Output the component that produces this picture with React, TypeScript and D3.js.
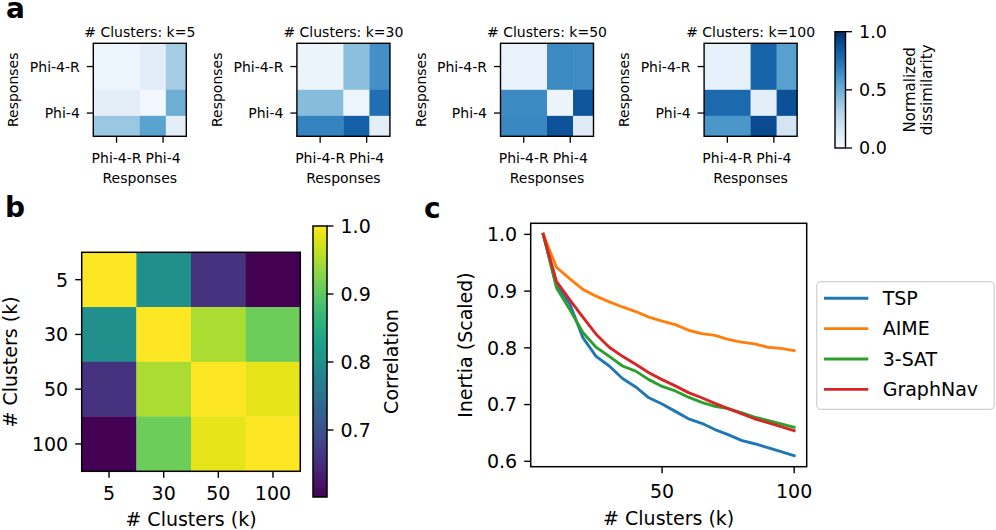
import React from 'react';
import * as d3 from 'd3';

const FONT = "'DejaVu Sans', sans-serif";

// ---------------- Panel a data ----------------
const clusterCountsA = [5, 30, 50, 100];
const responseGroups = ['Phi-4-R', 'Phi-4'];
const groupCenters = [0.25, 0.75];
const blockEdges = [0, 0.5, 0.78, 1];
const dissimK5 = [
  [0.05, 0.11, 0.35],
  [0.1, 0.03, 0.5],
  [0.38, 0.55, 0.1],
];
const dissimK30 = [
  [0.06, 0.42, 0.63],
  [0.43, 0.05, 0.76],
  [0.68, 0.82, 0.1],
];
const dissimK50 = [
  [0.07, 0.65, 0.64],
  [0.65, 0.06, 0.86],
  [0.66, 0.87, 0.12],
];
const dissimK100 = [
  [0.08, 0.8, 0.56],
  [0.78, 0.1, 0.88],
  [0.6, 0.9, 0.18],
];
const dissimMatrices = [dissimK5, dissimK30, dissimK50, dissimK100];
const dissimTicks = [0, 0.5, 1];

// ---------------- Panel b data ----------------
const kLabelsB = ['5', '30', '50', '100'];
const correlation = [
  [1.0, 0.8, 0.66, 0.6],
  [0.8, 1.0, 0.95, 0.91],
  [0.66, 0.95, 1.0, 0.985],
  [0.6, 0.91, 0.985, 1.0],
];
const corrTicks = [0.7, 0.8, 0.9, 1.0];
const corrRange = [0.6015, 1.0];

// ---------------- Panel c data ----------------
const kSteps = [5, 10, 15, 20, 25, 30, 35, 40, 45, 50, 55, 60, 65, 70, 75, 80, 85, 90, 95, 100];
const inertiaTSP = [1.0, 0.91, 0.878, 0.818, 0.785, 0.768, 0.746, 0.731, 0.712, 0.701, 0.688, 0.675, 0.667, 0.656, 0.647, 0.637, 0.631, 0.624, 0.617, 0.61];
const inertiaAIME = [1.0, 0.942, 0.922, 0.903, 0.891, 0.881, 0.872, 0.864, 0.854, 0.847, 0.841, 0.831, 0.825, 0.822, 0.815, 0.81, 0.807, 0.801, 0.799, 0.795];
const inertia3SAT = [1.0, 0.906, 0.868, 0.827, 0.801, 0.785, 0.768, 0.759, 0.744, 0.732, 0.724, 0.713, 0.704, 0.697, 0.693, 0.686, 0.678, 0.672, 0.666, 0.66];
const inertiaGraphNav = [1.0, 0.917, 0.885, 0.854, 0.824, 0.801, 0.785, 0.771, 0.756, 0.744, 0.733, 0.721, 0.712, 0.702, 0.693, 0.684, 0.675, 0.668, 0.661, 0.654];
const seriesNames = ['TSP', 'AIME', '3-SAT', 'GraphNav'];
const seriesValues = [inertiaTSP, inertiaAIME, inertia3SAT, inertiaGraphNav];
const seriesColors = ['#1f77b4', '#ff7f0e', '#2ca02c', '#d62728'];
const inertiaTicks = [0.6, 0.7, 0.8, 0.9, 1.0];
const kTicksC = [50, 100];

const TICK = 6.5;

function MiniHeatmap({ idx, k, matrix }: { idx: number; k: number; matrix: number[][] }) {
  const x0 = 93.3 + idx * 203.6;
  const y0 = 43.3;
  const size = 93;
  const xs = d3.scaleLinear().domain([0, 1]).range([x0, x0 + size]);
  const ys = d3.scaleLinear().domain([0, 1]).range([y0, y0 + size]);
  const color = (v: number) => d3.interpolateBlues(v);
  const fs = 14;
  return (
    <g>
      {matrix.map((row, i) =>
        row.map((v, j) => (
          <rect
            key={`${i}-${j}`}
            x={xs(blockEdges[j])}
            y={ys(blockEdges[i])}
            width={xs(blockEdges[j + 1]) - xs(blockEdges[j]) + 0.3}
            height={ys(blockEdges[i + 1]) - ys(blockEdges[i]) + 0.3}
            fill={color(v)}
          />
        ))
      )}
      <rect x={x0} y={y0} width={size} height={size} fill="none" stroke="#000" strokeWidth={1.4} />
      <text x={x0 + size / 2} y={36.7} textAnchor="middle" fontSize={fs}>
        # Clusters: k={k}
      </text>
      {groupCenters.map((g, i) => (
        <g key={'xt' + i}>
          <line x1={xs(g)} x2={xs(g)} y1={y0 + size} y2={y0 + size + TICK} stroke="#000" strokeWidth={1.3} />
          <text x={xs(g)} y={163} textAnchor="middle" fontSize={fs}>
            {responseGroups[i]}
          </text>
          <line x1={x0 - TICK} x2={x0} y1={ys(g)} y2={ys(g)} stroke="#000" strokeWidth={1.3} />
          <text x={x0 - TICK - 7} y={ys(g)} dy="0.36em" textAnchor="end" fontSize={fs}>
            {responseGroups[i]}
          </text>
        </g>
      ))}
      <text x={x0 + size / 2} y={182.5} textAnchor="middle" fontSize={fs}>
        Responses
      </text>
      <text
        transform={`translate(${x0 - 80},${y0 + size / 2}) rotate(-90)`}
        textAnchor="middle"
        dy="0.36em"
        fontSize={fs}
      >
        Responses
      </text>
    </g>
  );
}

export default function App() {
  // colorbar a
  const cbA = { x: 835, y0: 31.7, y1: 148, w: 10.5 };
  const cbAScale = d3.scaleLinear().domain([0, 1]).range([cbA.y1, cbA.y0]);
  const gradStops = d3.range(0, 1.0001, 0.05);

  // panel b
  const bx = d3.scaleBand<string>().domain(kLabelsB).range([81.7, 300.3]);
  const by = d3.scaleBand<string>().domain(kLabelsB).range([252.3, 471.3]);
  const corrColor = d3.scaleSequential(d3.interpolateViridis).domain(corrRange as [number, number]);
  const cbB = { x: 313, w: 14 };
  const cbBScale = d3.scaleLinear().domain(corrRange).range([497, 226]);

  // panel c
  const cx = d3.scaleLinear().domain([0.25, 104.75]).range([530.7, 806.7]);
  const cy = d3.scaleLinear().domain([0.5905, 1.0195]).range([466.7, 223.3]);
  const line = d3
    .line<number>()
    .x((_, i) => cx(kSteps[i]))
    .y((d) => cy(d));

  const fsB = 19;

  return (
    <svg
      width={996}
      height={530}
      style={{ position: 'absolute', left: 0, top: 0, background: '#fff' }}
      fontFamily={FONT}
      fill="#000"
    >
      <defs>
        <linearGradient id="gradBlues" x1="0" y1="1" x2="0" y2="0">
          {gradStops.map((t) => (
            <stop key={t} offset={t} stopColor={d3.interpolateBlues(t)} />
          ))}
        </linearGradient>
        <linearGradient id="gradViridis" x1="0" y1="1" x2="0" y2="0">
          {gradStops.map((t) => (
            <stop key={t} offset={t} stopColor={d3.interpolateViridis(t)} />
          ))}
        </linearGradient>
        <clipPath id="clipC">
          <rect x={530.7} y={223.3} width={276} height={243.4} />
        </clipPath>
      </defs>
      <rect x={0} y={0} width={996} height={530} fill="#fff" />

      {/* Panel letters */}
      <text x={6} y={17.5} fontSize={28} fontWeight="bold">a</text>
      <text x={5} y={216.7} fontSize={28} fontWeight="bold">b</text>
      <text x={424} y={218} fontSize={28} fontWeight="bold">c</text>

      {/* Panel a */}
      {dissimMatrices.map((m, i) => (
        <MiniHeatmap key={i} idx={i} k={clusterCountsA[i]} matrix={m} />
      ))}
      <rect x={cbA.x} y={cbA.y0} width={cbA.w} height={cbA.y1 - cbA.y0} fill="url(#gradBlues)" stroke="#000" strokeWidth={1.4} />
      {dissimTicks.map((t) => (
        <g key={t}>
          <line x1={cbA.x + cbA.w} x2={cbA.x + cbA.w + TICK} y1={cbAScale(t)} y2={cbAScale(t)} stroke="#000" strokeWidth={1.3} />
          <text x={cbA.x + cbA.w + TICK + 7} y={cbAScale(t)} dy="0.36em" fontSize={17.5}>
            {t.toFixed(1)}
          </text>
        </g>
      ))}
      <text transform={`translate(910,${(cbA.y0 + cbA.y1) / 2}) rotate(-90)`} textAnchor="middle" dy="0.36em" fontSize={15}>
        Normalized
      </text>
      <text transform={`translate(927,${(cbA.y0 + cbA.y1) / 2}) rotate(-90)`} textAnchor="middle" dy="0.36em" fontSize={15}>
        dissimilarity
      </text>

      {/* Panel b */}
      {correlation.map((row, i) =>
        row.map((v, j) => (
          <rect
            key={`c${i}-${j}`}
            x={bx(kLabelsB[j])}
            y={by(kLabelsB[i])}
            width={bx.bandwidth() + 0.3}
            height={by.bandwidth() + 0.3}
            fill={corrColor(v)}
          />
        ))
      )}
      <rect x={81.7} y={252.3} width={218.6} height={219} fill="none" stroke="#000" strokeWidth={1.5} />
      {kLabelsB.map((k) => {
        const xc = (bx(k) as number) + bx.bandwidth() / 2;
        const yc = (by(k) as number) + by.bandwidth() / 2;
        return (
          <g key={'bt' + k}>
            <line x1={xc} x2={xc} y1={471.3} y2={471.3 + TICK} stroke="#000" strokeWidth={1.4} />
            <text x={xc} y={500} textAnchor="middle" fontSize={fsB}>{k}</text>
            <line x1={81.7 - TICK} x2={81.7} y1={yc} y2={yc} stroke="#000" strokeWidth={1.4} />
            <text x={81.7 - TICK - 7} y={yc} dy="0.36em" textAnchor="end" fontSize={fsB}>{k}</text>
          </g>
        );
      })}
      <text x={191} y={525.5} textAnchor="middle" fontSize={fsB}># Clusters (k)</text>
      <text transform={`translate(10.5,362) rotate(-90)`} textAnchor="middle" dy="0.36em" fontSize={fsB}>
        # Clusters (k)
      </text>
      <rect x={cbB.x} y={226} width={cbB.w} height={271} fill="url(#gradViridis)" stroke="#000" strokeWidth={1.5} />
      {corrTicks.map((t) => (
        <g key={'cb' + t}>
          <line x1={cbB.x + cbB.w} x2={cbB.x + cbB.w + TICK} y1={cbBScale(t)} y2={cbBScale(t)} stroke="#000" strokeWidth={1.4} />
          <text x={cbB.x + cbB.w + TICK + 7} y={cbBScale(t)} dy="0.36em" fontSize={fsB}>{t.toFixed(1)}</text>
        </g>
      ))}
      <text transform={`translate(391,${(226 + 497) / 2}) rotate(-90)`} textAnchor="middle" dy="0.36em" fontSize={fsB}>
        Correlation
      </text>

      {/* Panel c */}
      <g clipPath="url(#clipC)">
        {seriesValues.map((vals, i) => (
          <path
            key={seriesNames[i]}
            d={line(vals) || ''}
            fill="none"
            stroke={seriesColors[i]}
            strokeWidth={2.9}
            strokeLinejoin="round"
            strokeLinecap="square"
          />
        ))}
      </g>
      <rect x={530.7} y={223.3} width={276} height={243.4} fill="none" stroke="#000" strokeWidth={1.5} />
      {inertiaTicks.map((t) => (
        <g key={'ct' + t}>
          <line x1={530.7 - TICK} x2={530.7} y1={cy(t)} y2={cy(t)} stroke="#000" strokeWidth={1.4} />
          <text x={530.7 - TICK - 7} y={cy(t)} dy="0.36em" textAnchor="end" fontSize={fsB}>{t.toFixed(1)}</text>
        </g>
      ))}
      {kTicksC.map((t) => (
        <g key={'cx' + t}>
          <line x1={cx(t)} x2={cx(t)} y1={466.7} y2={466.7 + TICK} stroke="#000" strokeWidth={1.4} />
          <text x={cx(t)} y={498} textAnchor="middle" fontSize={fsB}>{t}</text>
        </g>
      ))}
      <text x={668.7} y={525} textAnchor="middle" fontSize={fsB}># Clusters (k)</text>
      <text transform={`translate(465,345) rotate(-90)`} textAnchor="middle" dy="0.36em" fontSize={fsB}>
        Inertia (Scaled)
      </text>

      {/* Legend */}
      <rect x={816.7} y={281.7} width={177.5} height={127.6} rx={4} fill="#fff" fillOpacity={0.8} stroke="#d0d0d0" strokeWidth={1.2} />
      {seriesNames.map((name, i) => {
        const yy = 298.3 + i * 30.35;
        return (
          <g key={'lg' + name}>
            <line x1={824} x2={868.3} y1={yy} y2={yy} stroke={seriesColors[i]} strokeWidth={2.9} strokeLinecap="butt" />
            <text x={882.7} y={yy} dy="0.36em" fontSize={fsB}>{name}</text>
          </g>
        );
      })}
    </svg>
  );
}
